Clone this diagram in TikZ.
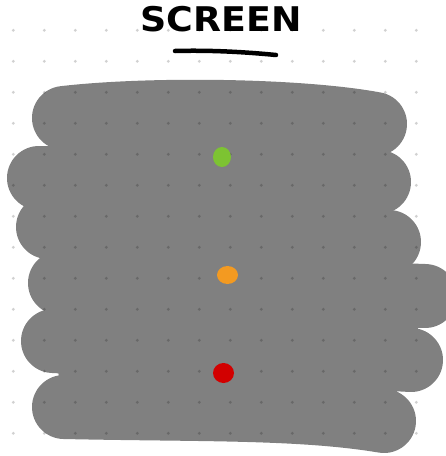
\documentclass[tikz,border=0pt]{standalone}
\usepackage{fontspec}
\newfontfamily\handfont{DejaVu Sans}
\definecolor{blobgray}{RGB}{128,128,128}
\definecolor{lampgreen}{RGB}{125,195,50}
\definecolor{lamporange}{RGB}{243,154,33}
\definecolor{lampred}{RGB}{210,0,0}
\tikzset{
  stroke/.style={draw=blobgray, line width=64pt, line cap=round, line join=round},
  griddot/.style={fill=black, fill opacity=0.18},
  lamp/.style={draw=none, inner sep=0pt, shape=ellipse}
}
\usetikzlibrary{shapes.geometric}
\begin{document}
\begin{tikzpicture}[x=1pt,y=-1pt]
\useasboundingbox (0,0) rectangle (446,456);
\fill[white] (0,0) rectangle (446,456);
\clip (0,0) rectangle (446,456);
% title
\node[font=\handfont\bfseries\fontsize{34}{34}\selectfont, inner sep=0pt, xscale=1.07] (title) at (221,19.5) {SCREEN};
\draw[line width=4.5pt, line cap=round] (175,51) .. controls (210,50) and (245,52) .. (276,55);
% blob
\fill[blobgray] (64,118) -- (375,124) -- (379,182) -- (389,242) -- (425,296) -- (411,360) -- (384,421) -- (64,407) -- (53,341) -- (60,283) -- (48,227) -- (39,178) -- cycle;
\draw[stroke] (64,118) .. controls (150,108) and (300,110) .. (375,124);
\draw[stroke] (39,178) -- (379,182);
\draw[stroke] (48,227) -- (389,242);
\draw[stroke] (60,283) -- (425,296);
\draw[stroke] (53,341) -- (411,360);
\draw[stroke] (64,407) .. controls (200,410) and (300,407) .. (384,421);
% grid dots
\foreach \i in {0,...,13} {
  \foreach \j in {0,...,13} {
    \fill[griddot] ({13.3+31*\i},{30.3+31*\j}) circle (1.6pt);
  }
}
% lamps
\node[lamp, fill=lampgreen, minimum width=18pt, minimum height=20pt] (green) at (222,157) {};
\node[lamp, fill=lamporange, minimum width=21pt, minimum height=18pt] (orange) at (227.5,275) {};
\node[lamp, fill=lampred, minimum width=21pt, minimum height=20pt] (red) at (223.5,373) {};
\end{tikzpicture}
\end{document}
